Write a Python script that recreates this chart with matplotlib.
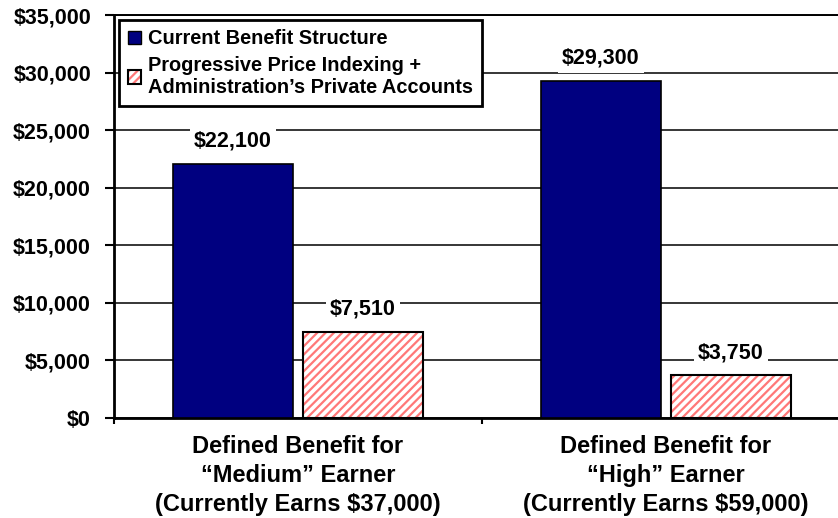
import matplotlib.pyplot as plt
import numpy as np
from matplotlib.patches import Patch
from matplotlib.ticker import FuncFormatter

plt.rcParams['font.family'] = ['Liberation Sans', 'DejaVu Sans']
plt.rcParams['font.weight'] = 'bold'
plt.rcParams['hatch.linewidth'] = 1.6

categories = ['Defined Benefit for\n\u201cMedium\u201d Earner\n(Currently Earns $37,000)',
              'Defined Benefit for\n\u201cHigh\u201d Earner\n(Currently Earns $59,000)']
current = [22100, 29300]
reform = [7510, 3750]
series_names = ['Current Benefit Structure',
                'Progressive Price Indexing +\nAdministration\u2019s Private Accounts']

navy = '#000080'
pink = '#ff7878'

fig = plt.figure(figsize=(8.38, 5.18), dpi=100)
# plot area runs a little past the right edge, as in the original
ax = fig.add_axes([0.136, 0.193, 0.878, 0.778])

x = np.arange(len(categories))
w = 0.326
gap = 0.027
x1 = x - w / 2 - gap / 2
x2 = x + w / 2 + gap / 2
ax.bar(x1, current, w, color=navy, edgecolor='black', linewidth=1.2, zorder=3)
ax.bar(x2, reform, w, color='white', edgecolor=pink, hatch='////', linewidth=0, zorder=3)
ax.bar(x2, reform, w, color='none', edgecolor='black', linewidth=1.5, zorder=4)

for xs, vals in [(x1, current), (x2, reform)]:
    for xi, v in zip(xs, vals):
        ax.annotate(f'${v:,}', (xi, v), xytext=(0, 16), textcoords='offset points',
                    ha='center', va='center', fontsize=15.5, fontweight='bold',
                    bbox=dict(facecolor='white', edgecolor='none', pad=3), zorder=5)

ax.set_ylim(0, 35000)
ax.set_xlim(-0.5, 1.5)
ax.set_yticks(np.arange(0, 35001, 5000))
ax.yaxis.set_major_formatter(FuncFormatter(lambda v, p: f'${int(v):,}'))
ax.yaxis.grid(True, color='black', linewidth=1.1, zorder=0)
ax.set_axisbelow(True)
ax.set_xticks([-0.5, 0.5, 1.5])
ax.set_xticklabels([])
ax.set_xticks(x, minor=True)
ax.set_xticklabels(categories, minor=True, fontsize=17, fontweight='bold', linespacing=1.33)
ax.tick_params(axis='x', which='minor', length=0, pad=12)
ax.tick_params(axis='x', which='major', direction='out', length=4.5, width=1.5)
ax.tick_params(axis='y', direction='out', length=6.5, width=1.5, labelsize=15.5, pad=10)
for lbl in ax.get_yticklabels():
    lbl.set_fontweight('bold')
for s in ['left', 'bottom']:
    ax.spines[s].set_linewidth(2)
ax.spines['top'].set_linewidth(1.4)
ax.spines['right'].set_visible(False)

h1 = Patch(facecolor=navy, edgecolor='black')
h2a = Patch(facecolor='white', edgecolor=pink, hatch='////', linewidth=0)
h2b = Patch(facecolor='none', edgecolor='black', linewidth=1.5)
leg = ax.legend([h1, (h2a, h2b)], series_names, loc='upper left', fontsize=14.4,
                frameon=True, fancybox=False, edgecolor='black', framealpha=1,
                bbox_to_anchor=(0.007, 0.987), handlelength=0.65, handleheight=0.65,
                handletextpad=0.35, borderpad=0.45, labelspacing=0.4, borderaxespad=0)
for t in leg.get_texts():
    t.set_linespacing(1.15)
leg.get_frame().set_linewidth(2)
leg.set_zorder(6)

fig.savefig('out.png', dpi=100)
